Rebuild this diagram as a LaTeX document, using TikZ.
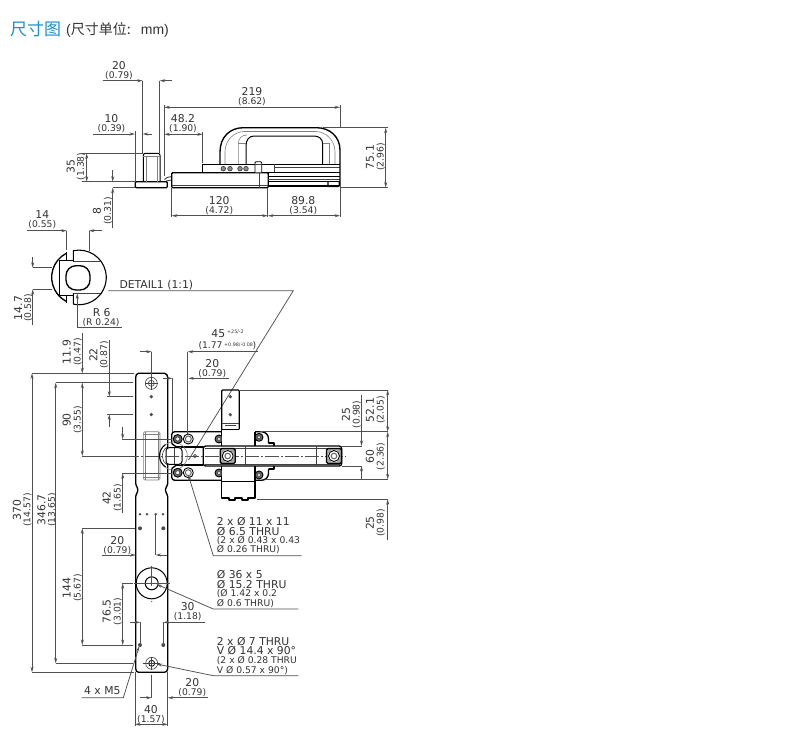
\documentclass[tikz,border=0pt]{standalone}
\usepackage{fontspec}
\setmainfont{DejaVu Sans}
\newfontfamily\cjk{Noto Sans CJK SC}
\newfontfamily\lib{Liberation Sans}
\usetikzlibrary{arrows.meta}
\definecolor{ink}{HTML}{333333}
\definecolor{dimc}{HTML}{505050}
\definecolor{titleblue}{HTML}{1C8FD0}
\newcounter{nn}
\tikzset{
 x=1pt,y=-1pt,
 big/.style={font=\fontsize{10.8}{11}\selectfont,text=ink,inner sep=0pt},
 sml/.style={font=\fontsize{9.2}{10}\selectfont,text=ink,inner sep=0pt},
 tiny/.style={font=\fontsize{4.8}{6}\selectfont,text=ink,inner sep=0pt},
 dim/.style={draw=dimc,line width=0.75pt},
 tip/.style={dim,-{Stealth[length=5.5pt,width=3pt]}},
 tipboth/.style={dim,{Stealth[length=5.5pt,width=3pt]}-{Stealth[length=5.5pt,width=3pt]}},
 heavy/.style={draw=black,line width=1.35pt,line join=round},
 thin/.style={draw=black!75,line width=0.6pt},
 pale/.style={draw=black!50,line width=0.6pt},
 axis/.style={draw=dimc,line width=0.55pt,dash pattern=on 14pt off 2pt on 2pt off 2pt},
 spot/.style={fill=black!70,draw=none},
}
% horizontal pair of texts
\newcommand\hd[4]{\stepcounter{nn}\node[big] (n\thenn) at (#1,#2) {#3};\stepcounter{nn}\node[sml] (n\thenn) at (#1,#2+10) {#4};}
% vertical pair: x of first, x of second, centre y
\newcommand\vd[5]{\stepcounter{nn}\node[big,rotate=90] (n\thenn) at (#1,#3) {#4};\stepcounter{nn}\node[sml,rotate=90] (n\thenn) at (#2,#3) {#5};}
\newcommand\lt[4][big]{\stepcounter{nn}\node[#1,anchor=west] (n\thenn) at (#2,#3) {#4};}
\newcommand\dia{Ø}
\newcommand\bolt[3]{\fill[black!60] (#1,#2) circle (#3);\draw[heavy,line width=.9pt] (#1,#2) circle (#3);\fill[white] (#1,#2) circle (#3*0.45);\draw[thin] (#1,#2) circle (#3*0.45);}
\newcommand\ring[3]{\draw[heavy,line width=.9pt] (#1,#2) circle (#3);\draw[black!60,line width=1pt] (#1,#2) circle (#3*0.6);}
\newcommand\sq[2]{\draw[heavy,fill=black!35,rounded corners=1.5pt] (#1-7.5,#2-7.5) rectangle (#1+7.5,#2+7.5);\fill[white] (#1,#2) circle (6);\draw[heavy,line width=.9pt] (#1,#2) circle (5.5);\draw[black!60,line width=1pt] (#1,#2) circle (2.8);}
\newcommand\plate{%
\draw[heavy,rounded corners=3pt] (221.7,431.7) -- (171.7,431.7) -- (171.7,443.5);
\draw[heavy] (171.7,443.5) -- (176,446.7) -- (203.3,446.7);
\draw[heavy,rounded corners=7pt] (255,431.7) -- (268.5,431.7) -- (268.5,443.5);
\draw[heavy] (268.5,443) -- (274,443) -- (274,446);
}
\begin{document}
\begin{tikzpicture}
\useasboundingbox (0,0) rectangle (800,740);
\fill[white] (0,0) rectangle (800,740);
% title
\node[anchor=west,inner sep=0pt,text=titleblue,font=\fontsize{17}{17}\selectfont\cjk] (title) at (10,29) {尺寸图};
\node[anchor=west,inner sep=0pt,text=ink,font=\fontsize{14}{14}\selectfont\lib] (unit) at (66,30) {(\cjk 尺寸单位:\lib\ \ \,mm)};

% ---------- top view ----------
\draw[heavy,rounded corners=1pt] (135.3,181.7) rectangle (167.3,187.7);
\draw[heavy,line width=1pt,rounded corners=2pt] (143.3,181.7) -- (143.3,153.3) -- (160,153.3) -- (160,181.7);
\draw[pale] (143.3,156.5) -- (160,156.5);
\draw[pale] (146,156.5) -- (146,181.7) (157,156.5) -- (157,181.7);
\draw[thin,line width=.9pt] (164.5,179.5) -- (167,177.5) -- (171.7,176.5) (166,181) -- (171.7,180);
\draw[heavy,rounded corners=1pt] (171.7,172.7) rectangle (268.3,187.7);
\draw[thin] (171.7,185.7) -- (268.3,185.7);
\draw[thin] (259.3,172.7) -- (259.3,187.7);
% right rails
\draw[heavy] (268.3,176.7) -- (340,176.7);
\draw[thin] (268.3,179) -- (340,179);
\draw[heavy] (268.3,181.5) -- (340,181.5);
\draw[heavy] (268.3,186) -- (339.3,186);
\draw[heavy,rounded corners=1pt] (328,181.7) -- (328,186.5) -- (339.3,186.5) -- (339.3,181.7);
% bar
\draw[heavy,line width=1pt] (202.7,172.3) -- (202.7,164) -- (340,164);
\draw[heavy] (202.7,172.3) -- (340,172.3);
\draw[thin] (274,164) -- (274,172.3);
\draw[thin] (274,167) -- (340,167);
% U handle
\draw[heavy] (220,164) -- (220,152) .. controls (220,137) and (230,127.7) .. (243.3,127.7) -- (316.7,127.7) .. controls (330,127.7) and (340,137) .. (340,150) -- (340,183);
\draw[heavy,line width=1pt] (246,164) -- (246,146) .. controls (246,140) and (249,136) .. (254,136) -- (314,136) .. controls (319,136) and (322.7,139) .. (322.7,144) -- (322.7,164);
\draw[pale] (225,164) -- (225,152) .. controls (225,141) and (233,132) .. (244,131.5) -- (316,131.5) .. controls (327,132) and (335,141) .. (335,152) -- (335,164);
\draw[pale] (238.3,164) -- (238.3,144) .. controls (238.3,138) and (242,135) .. (247,135);
\draw[pale] (329.5,164) -- (329.5,143) (322.7,143) -- (329.5,143) (238.3,143) -- (246,143);
\foreach \xx in {223.3,230,240,246}{\draw[black!80,fill=black!45,line width=.6pt] (\xx,168.7) circle (2.3);}
\draw[heavy,line width=.8pt,fill=white,rounded corners=1pt] (255,172.3) -- (255,161.7) -- (261.7,161.7) -- (261.7,172.3);
\draw[thin] (255,164.5) -- (261.7,164.5);

% top dims
\draw[dim] (142.7,80.7) -- (142.7,153) (159.7,80.7) -- (159.7,153);
\draw[tip] (102.7,80.7) -- (142.7,80.7);
\draw[tip] (172,80.7) -- (159.7,80.7);
\hd{119}{65.5}{20}{(0.79)}
\draw[dim] (135,131) -- (135,182);
\draw[tip] (93,134) -- (135,134);
\draw[tip] (152,134) -- (142.7,134);
\hd{111.5}{118.5}{10}{(0.39)}
\draw[dim] (164.3,105) -- (164.3,176) (340,105) -- (340,128);
\draw[tipboth] (164.3,107.3) -- (340,107.3);
\hd{252}{91.5}{219}{(8.62)}
\draw[dim] (202.7,131.5) -- (202.7,163);
\draw[tipboth] (164.3,134.3) -- (202.7,134.3);
\hd{183}{119}{48.2}{(1.90)}
\draw[dim] (81.7,153.3) -- (143,153.3) (81.7,181.7) -- (135,181.7);
\draw[tipboth] (86.7,153.3) -- (86.7,181.7);
\vd{70.7}{81}{166.5}{35}{(1.38)}
\draw[dim] (112.7,187.7) -- (135,187.7);
\draw[tip] (112.7,170) -- (112.7,181.7);
\draw[tip] (112.7,228) -- (112.7,187.7);
\vd{97}{108}{211}{8}{(0.31)}
\draw[dim] (171.7,188) -- (171.7,217) (267.7,188) -- (267.7,217) (340,183) -- (340,217);
\draw[tipboth] (171.7,215.7) -- (267.7,215.7);
\draw[tipboth] (268,215.7) -- (340,215.7);
\hd{219.3}{200.3}{120}{(4.72)}
\hd{303.3}{200.3}{89.8}{(3.54)}
\draw[dim] (323,127.7) -- (388,127.7) (340,187.5) -- (388,187.5);
\draw[tipboth] (385.7,127.7) -- (385.7,187.5);
\vd{370}{380.7}{157}{75.1}{(2.96)}

% ---------- detail ----------
\draw[thin] (73.3,261.5) -- (100,261.5) (73.3,293) -- (102,293);
\draw[heavy,line width=1pt] (66,252) -- (66,260) -- (59.3,260) -- (59.3,295.5) -- (66,295.5) -- (66,303);
\draw[heavy,line width=1pt] (66,260) -- (73.3,260) (66,295.5) -- (73.3,295.5);
\draw[heavy,line width=1.1pt] (73.3,261.5) -- (73.3,250.7) arc[start angle=-102,end angle=102,radius=27.3] -- (73.3,293);
\draw[heavy] (66,253.5) arc[start angle=-118,end angle=-242,radius=27];
\draw[heavy,fill=white,rounded corners=10pt] (66,265.7) rectangle (90,290);
\draw[dim] (66.7,230.7) -- (66.7,250) (89,230.7) -- (89,251);
\draw[tip] (26.7,230.7) -- (66.7,230.7);
\draw[tip] (101.7,230.7) -- (89,230.7);
\hd{42.3}{215}{14}{(0.55)}
\draw[dim] (32.7,267.7) -- (52,267.7) (32.7,289.3) -- (52,289.3);
\draw[tip] (32.7,256.7) -- (32.7,267.7);
\draw[tip] (32.7,325) -- (32.7,289.3);
\vd{18.3}{28.3}{308}{14.7}{(0.58)}
\draw[dim,{Stealth[length=5.5pt,width=3pt]}-] (77.3,293.3) -- (77.3,327.7) -- (121.7,327.7);
\node[big] (rsix) at (101.7,312.7) {R 6};
\node[sml] (rsixb) at (101,322.7) {(R 0.24)};
\node[big,anchor=west] (detail) at (119.3,285) {DETAIL1 (1:1)};
\draw[dim] (108.3,290.7) -- (293.3,290.7) -- (188.5,460);

% ---------- bar ----------
\draw[heavy,rounded corners=1.5pt] (135.7,376) -- (137,373.3) -- (166,373.3) -- (167.7,376) -- (167.7,485) -- (165.5,488) -- (165.5,492) -- (167.7,495) -- (167.7,670) -- (166,672.3) -- (137,672.3) -- (135.7,670) -- (135.7,495) -- (137.8,492) -- (137.8,488) -- (135.7,485) -- cycle;
% slot
\draw[pale,rounded corners=1.5pt] (143.3,431.7) rectangle (160,480);
\draw[pale] (145.5,431.7) -- (145.5,480) (157.8,431.7) -- (157.8,480) (143.3,434.5) -- (160,434.5) (143.3,477.5) -- (160,477.5);
% holes
\draw[thin] (151.3,383.3) circle (6);
\draw[thin] (151.3,383.3) circle (3);
\draw[thin] (145,383.3) -- (157.6,383.3) (151.3,377) -- (151.3,389.6);
\foreach \yy in {396.7,414.5}{\fill[spot] (151.3,\yy) circle (1.8);}
\foreach \xx in {140,147,155.7,163}{\fill[spot] (\xx,514.3) circle (1.4);}
\foreach \xx in {140,163.3}{\fill[spot] (\xx,528.3) circle (2);\fill[spot] (\xx,645) circle (2);}
\draw[heavy,line width=1pt] (151.7,583.3) circle (15.5);
\draw[heavy,line width=1pt] (151.7,583.3) circle (6.5);
\draw[dim] (151.7,566) -- (151.7,586) (134,583.3) -- (170,583.3);
\fill[spot] (151.7,601.5) circle (.6);
\draw[thin] (151.7,663.3) circle (6);
\draw[heavy,line width=.8pt] (151.7,663.3) circle (3);
\draw[thin] (143,663.3) -- (160,663.3) (151.7,657) -- (151.7,670);

% ---------- assembly ----------
\plate
\begin{scope}[shift={(0,912)},yscale=-1]
\plate
\end{scope}
% tab
\draw[heavy,rounded corners=1pt] (221.7,429.3) -- (221.7,390) -- (239.3,390) -- (239.3,429.3);
\draw[thin] (221.7,423) -- (239.3,423) (225,425) -- (236,425);
\draw[heavy,line width=1pt] (221.7,429.3) -- (239.3,429.3);
\fill[spot] (230.3,396.7) circle (1.8);
\fill[spot] (230.3,414.7) circle (1.8);
% body
\draw[heavy] (221.7,429.3) -- (221.7,446) (255,431.7) -- (255,446);
\draw[heavy] (221.7,466) -- (221.7,498) -- (229,498) -- (229,500) -- (235,500) -- (235,498) -- (242,498) -- (242,500) -- (248,500) -- (248,498) -- (255,498) -- (255,466);
\draw[heavy,line width=1pt] (221.7,481) -- (255,481);
% arm
\draw[heavy,rounded corners=2.5pt] (203.3,446) -- (341.7,446) -- (341.7,466) -- (203.3,466) -- cycle;
\draw[thin] (205,448.2) -- (340,448.2) (205,464) -- (340,464);
\draw[thin] (245,446) -- (245,466) (316.7,446) -- (316.7,466);
\draw[axis] (125,456) -- (346,456);
\sq{227.7}{456}
\sq{334}{456}
% pin
\draw[heavy] (181,447.3) -- (203.3,447.3) (181,464.7) -- (203.3,464.7);
\draw[thin] (195,456) circle (1.6);
% head
\draw[pale] (173.3,456) circle (14);
\draw[heavy,line width=1pt] (165.5,444.5) arc[start angle=-124,end angle=-236,radius=13.5];
\draw[thin] (167,447) arc[start angle=-125,end angle=-235,radius=11];
\draw[heavy,line width=1pt,fill=white,rounded corners=3pt] (166,447.7) rectangle (182,464.3);
\draw[thin] (174,447.7) -- (174,464.3);
\draw[axis] (125,456) -- (186,456);
% bolts
\bolt{177.7}{439}{4.5}\bolt{177.7}{472.7}{4.5}
\ring{188.3}{439}{5}\ring{188.3}{472.7}{5}
\bolt{259}{437.3}{4}\bolt{259}{475}{4}
\begin{scope}
\clip (210,425) rectangle (221.7,485);
\bolt{219}{439}{4}\bolt{219}{473}{4}
\end{scope}

% ---------- lower view dims ----------
\draw[dim] (32,373.3) -- (134,373.3) (32,672.3) -- (134,672.3);
\draw[tipboth] (32,373.3) -- (32,672.3);
\vd{17}{27.5}{510}{370}{(14.57)}
\draw[dim] (55.7,382.7) -- (133,382.7) (55.7,663.3) -- (133,663.3);
\draw[tipboth] (55.7,382.7) -- (55.7,663.3);
\vd{41.5}{52}{510}{346.7}{(13.65)}
\draw[tip] (82.3,333) -- (82.3,373.3);
\draw[tipboth] (82.3,382.7) -- (82.3,456);
\draw[dim] (82.3,456) -- (133,456);
\vd{66.7}{77.7}{352}{11.9}{(0.47)}
\vd{66.7}{77.7}{420}{90}{(3.55)}
\draw[tip] (109.3,340) -- (109.3,396.7);
\draw[tip] (109.3,426.7) -- (109.3,414.3);
\draw[dim] (107,396.7) -- (133,396.7) (107,414.3) -- (133,414.3);
\vd{93.3}{104.3}{355}{22}{(0.87)}
\draw[tip] (122.7,426.7) -- (122.7,439.3);
\draw[tip] (122.7,513) -- (122.7,473.3);
\draw[dim] (122,439.3) -- (172,439.3) (122,473.3) -- (172,473.3);
\vd{106.7}{117.7}{498}{42}{(1.65)}
\draw[tip] (101.7,555) -- (135.7,555);
\draw[tip] (166.7,555) -- (155.7,555);
\draw[dim] (155.7,515) -- (155.7,555);
\hd{117.3}{540.7}{20}{(0.79)}
\draw[dim] (82,528.3) -- (135,528.3) (82,645) -- (133,645);
\draw[tipboth] (82.3,528.3) -- (82.3,645);
\vd{66.7}{77.7}{588}{144}{(5.67)}
\draw[dim] (122,583.3) -- (133,583.3);
\draw[tipboth] (122.7,583.3) -- (122.7,645);
\vd{106.7}{117.7}{611.5}{76.5}{(3.01)}
\draw[dim] (140,622.3) -- (140,645) (163.3,622.3) -- (163.3,645);
\draw[tip] (130,622.3) -- (140,622.3);
\draw[tip] (205,622.3) -- (163.3,622.3);
\hd{187.7}{606.7}{30}{(1.18)}
\draw[dim,-{Stealth[length=5.5pt,width=3pt]}] (81.7,697.7) -- (123.3,697.7) -- (139.3,646);
\node[big] (mfive) at (102.3,691) {4 x M5};
\draw[dim] (151.7,675) -- (151.7,697.7) (167.7,672) -- (167.7,726) (135,672) -- (135,726);
\draw[tip] (140,697.7) -- (151.7,697.7);
\draw[tip] (208,697.7) -- (167.7,697.7);
\hd{192.3}{682.7}{20}{(0.79)}
\draw[tipboth] (135,724.3) -- (167.7,724.3);
\hd{151}{709.3}{40}{(1.57)}
% 45 and 20
\draw[dim] (151.7,351.7) -- (151.7,377) (187.7,351.7) -- (187.7,434);
\draw[tip] (140,351.7) -- (151.7,351.7);
\draw[tip] (258,351.7) -- (187.7,351.7);
\node[big] (fortyfive) at (218.3,333.3) {45};
\node[tiny,anchor=west] (fortyfiveb) at (227,331.5) {+25/-2};
\node[sml,anchor=west] (inch) at (198.3,346) {(1.77};
\node[tiny,anchor=west] (inchb) at (224,344.5) {+0.98/-0.08};
\node[sml,anchor=west] (inchc) at (252.5,346) {)};
\draw[dim] (172.3,378.3) -- (172.3,432);
\draw[tip] (163.3,378.3) -- (172.3,378.3);
\draw[tip] (229.3,378.3) -- (188.3,378.3);
\hd{212.3}{363.3}{20}{(0.79)}
% right dims
\draw[dim] (239.3,390) -- (388,390) (260,431.7) -- (388,431.7) (342,446) -- (362,446) (342,466) -- (362,466) (265,479.3) -- (388,479.3) (256.7,499.3) -- (388,499.3);
\draw[tip] (361.5,395) -- (361.5,446);
\draw[tip] (361.5,479.3) -- (361.5,466);
\vd{346}{356.7}{414.5}{25}{(0.98)}
\draw[tipboth] (387.7,390) -- (387.7,431.7);
\draw[tipboth] (387.7,431.7) -- (387.7,479.3);
\draw[tip] (387.7,540) -- (387.7,499.3);
\vd{370}{380.7}{410}{52.1}{(2.05)}
\vd{370}{380.7}{456.5}{60}{(2.36)}
\vd{370}{380.7}{523}{25}{(0.98)}
% leaders and notes
\draw[dim,{Stealth[length=5.5pt,width=3pt]}-] (188.3,475) -- (213.3,555.7) -- (301.7,555.7);
\lt{216.7}{522}{2 x \dia\ 11 x 11}
\lt{216.7}{531.5}{\dia\ 6.5 THRU}
\lt[sml]{216.7}{541}{(2 x \dia\ 0.43 x 0.43}
\lt[sml]{216.7}{550}{\dia\ 0.26 THRU)}
\draw[dim,{Stealth[length=5.5pt,width=3pt]}-] (156.7,584.3) -- (213.3,609) -- (298.3,609);
\lt{216.7}{574.5}{\dia\ 36 x 5}
\lt{216.7}{584.5}{\dia\ 15.2 THRU}
\lt[sml]{216.7}{594}{(\dia\ 1.42 x 0.2}
\lt[sml]{216.7}{603.5}{\dia\ 0.6 THRU)}
\draw[dim,{Stealth[length=5.5pt,width=3pt]}-] (156.7,664) -- (213.3,675.7) -- (298.3,675.7);
\lt{216.7}{641.5}{2 x \dia\ 7 THRU}
\lt{216.7}{651}{V \dia\ 14.4 x 90°}
\lt[sml]{216.7}{661}{(2 x \dia\ 0.28 THRU}
\lt[sml]{216.7}{670.5}{V \dia\ 0.57 x 90°)}
\end{tikzpicture}
\end{document}
